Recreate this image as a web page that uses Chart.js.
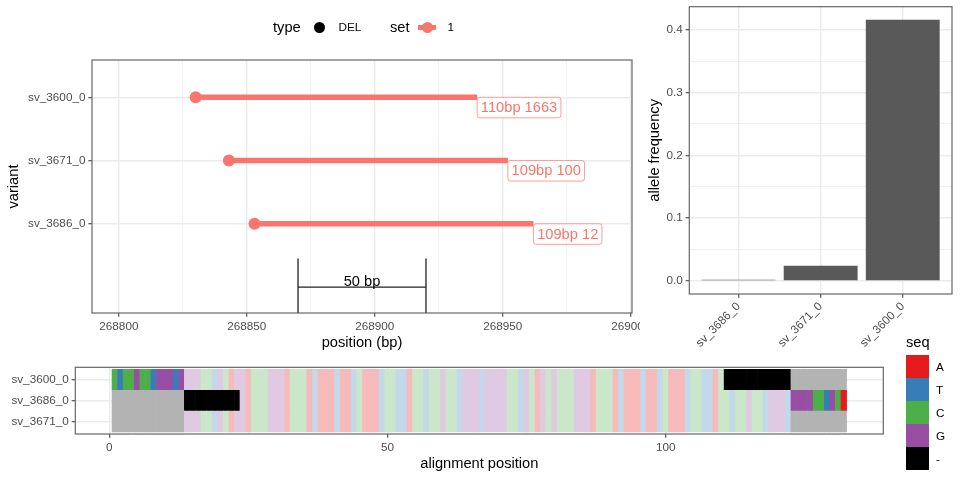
<!DOCTYPE html>
<html><head><meta charset="utf-8"><title>SV deletions</title>
<script src="https://cdn.jsdelivr.net/npm/chart.js@4.4.1/dist/chart.umd.min.js"></script>
<style>
html,body{margin:0;padding:0;background:#fff}
#fig{position:relative;width:960px;height:480px;overflow:hidden;font-family:"Liberation Sans",Arial,Helvetica,sans-serif;color:#000}
#fig canvas{position:absolute}
.lg{position:absolute;white-space:nowrap;line-height:1;transform:translateY(-50%)}
.sw{position:absolute}
</style></head><body>
<div id="fig">
<canvas id="cLolli" width="640" height="356" style="left:0;top:0"></canvas>
<canvas id="cAF" width="320" height="360" style="left:640px;top:0"></canvas>
<canvas id="cAln" width="890" height="125" style="left:0;top:355px"></canvas>
</div>
<script>
// ---------------- data ----------------
const variants = ['sv_3600_0', 'sv_3671_0', 'sv_3686_0'];
const variantRow = [3, 2, 1];
const delStart = [268830, 268843, 268853];
const delLength = [110, 109, 109];
const carrierCount = [1663, 100, 12];
const typeLevels = ['DEL'];
const setLevels = ['1'];
const posTicks = [268800, 268825, 268850, 268875, 268900, 268925, 268950, 268975, 269000];
const scaleBarX = [268870, 268920];
const scaleBarY = 0;
const scaleBarTickTop = 0.45;
const scaleBarLabel = '50 bp';

const afVariants = ['sv_3686_0', 'sv_3671_0', 'sv_3600_0'];
const afPos = [1, 2, 3];
const alleleFreq = [0.002, 0.024, 0.416];
const afTicks = [0, 0.05, 0.1, 0.15, 0.2, 0.25, 0.3, 0.35, 0.4];

const alnVariants = ['sv_3600_0', 'sv_3686_0', 'sv_3671_0'];
const alnRow = [3, 2, 1];
// upper case = differing base, lower case = shared base, '-' = gap, '.' = no sequence
const alnSeq3600 = 'CTCCGCCTGGGTG' + 'gggcctgcag' + 'gacccgggac' + 'ccataaataa' + 'tcaaatcctt' + 'acctccgcct' +
  'gggtggggcc' + 'tgcagcgccc' + 'gggacccata' + 'aataatcaaa' + 'tccttac' + '------------' + '..........';
const alnSeq3686 = '.............' + '----------' + 'gacccgggac' + 'ccataaataa' + 'tcaaatcctt' + 'acctccgcct' +
  'gggtggggcc' + 'tgcagcgccc' + 'gggacccata' + 'aataatcaaa' + 'tccttacctc' + 'cgcctgggt' + 'GGGGCCTGCA';
const alnSeq3671 = '.............' + 'gggcctgcag' + 'gacccgggac' + 'ccataaataa' + 'tcaaatcctt' + 'acctccgcct' +
  'gggtggggcc' + 'tgcagcgccc' + 'gggacccata' + 'aataatcaaa' + 'tccttacctc' + 'cgcctgggt' + '..........';
const alnTicks = [0, 25, 50, 75, 100, 125];
const seqLevels = ['A', 'T', 'C', 'G', '-'];

// ---------------- styles ----------------
const SALMON = '#F8766D';
const baseFull = {A: '#E41A1C', T: '#377EB8', C: '#4DAF4A', G: '#984EA3', '-': '#000000'};
const basePale = {A: '#F7BABB', T: '#C3D8EA', C: '#CAE7C9', G: '#E0CAE3'};
const NA_COL = '#B3B3B3';
const FAM = '"Liberation Sans", Arial, Helvetica, sans-serif';
Chart.defaults.font.family = FAM;
Chart.defaults.color = '#4D4D4D';
const TICK_FONT = {size: 11.73, lineHeight: 1.2};
const TITLE_FONT = {size: 14.67, lineHeight: 1.2};

function fixBox(w, h) {
  return s => {
    if (w != null) s.width = w;
    if (h != null) s.height = h;
    s.paddingLeft = 0; s.paddingRight = 0; s.paddingTop = 0; s.paddingBottom = 0;
  };
}
function setTicks(vals) { return s => { s.ticks = vals.map(v => ({value: v})); }; }
function gridCfg(isMajor) {
  return {
    color: '#EBEBEB',
    lineWidth: c => (c.tick && isMajor(c.tick.value)) ? 1.42 : 0.71,
    tickColor: c => (c.tick && isMajor(c.tick.value)) ? '#444444' : 'rgba(0,0,0,0)',
    tickLength: 3.67,
    tickWidth: 1.1,
    drawTicks: true
  };
}
const allMajor = () => true;
const panelBorder = {
  id: 'panelBorder',
  afterDraw(chart) {
    const {ctx, chartArea: a} = chart;
    ctx.save();
    ctx.strokeStyle = '#666666';
    ctx.lineWidth = 1.2;
    ctx.strokeRect(a.left, a.top, a.right - a.left, a.bottom - a.top);
    ctx.restore();
  }
};
const common = {responsive: false, animation: false, events: [],
  plugins: {legend: {display: false}, tooltip: {enabled: false}}};

// ---------------- lollipop panel ----------------
const LY_MIN = -0.41, LY_MAX = 3.59;
const lolliSets = variants.map((v, i) => ({
  data: [{x: delStart[i], y: variantRow[i]}, {x: delStart[i] + delLength[i], y: variantRow[i]}],
  showLine: true, borderColor: SALMON, borderWidth: 5.5, borderCapStyle: 'butt',
  pointRadius: c => c.dataIndex === 0 ? 6 : 0, pointBackgroundColor: SALMON, pointBorderWidth: 0
}));
const barStyle = {showLine: true, borderColor: '#222222', borderWidth: 1.3, pointRadius: 0};
lolliSets.push(Object.assign({data: [{x: scaleBarX[0], y: scaleBarY}, {x: scaleBarX[1], y: scaleBarY}]}, barStyle));
lolliSets.push(Object.assign({data: [{x: scaleBarX[0], y: scaleBarTickTop}, {x: scaleBarX[0], y: LY_MIN}]}, barStyle));
lolliSets.push(Object.assign({data: [{x: scaleBarX[1], y: scaleBarTickTop}, {x: scaleBarX[1], y: LY_MIN}]}, barStyle));

const lolliLabels = {
  id: 'lolliLabels',
  afterDatasetsDraw(chart) {
    const {ctx, scales: {x, y}} = chart;
    ctx.save();
    ctx.font = '14.67px ' + FAM;
    variants.forEach((v, i) => {
      const px = x.getPixelForValue(delStart[i] + delLength[i]);
      const py = y.getPixelForValue(variantRow[i]);
      const txt = delLength[i] + 'bp ' + carrierCount[i];
      const w = ctx.measureText(txt).width + 7.4, h = 20.5;
      ctx.beginPath();
      ctx.roundRect(px, py, w, h, 2.5);
      ctx.fillStyle = '#ffffff'; ctx.fill();
      ctx.lineWidth = 0.7; ctx.strokeStyle = SALMON; ctx.stroke();
      ctx.fillStyle = SALMON; ctx.textBaseline = 'middle'; ctx.textAlign = 'left';
      ctx.fillText(txt, px + 3.7, py + h / 2 + 0.5);
    });
    ctx.fillStyle = '#000000'; ctx.textAlign = 'center'; ctx.textBaseline = 'alphabetic';
    ctx.fillText(scaleBarLabel, x.getPixelForValue((scaleBarX[0] + scaleBarX[1]) / 2), y.getPixelForValue(scaleBarY) - 1);
    ctx.restore();
  }
};

new Chart(document.getElementById('cLolli'), {
  type: 'scatter',
  data: {datasets: lolliSets},
  options: Object.assign({}, common, {
    layout: {padding: {left: 0, right: 8, top: 60, bottom: 0}},
    scales: {
      x: {type: 'linear', min: 268789.5, max: 269000.5,
        afterBuildTicks: setTicks(posTicks), afterFit: fixBox(null, 43),
        grid: gridCfg(v => v % 50 === 0), border: {display: false},
        ticks: {autoSkip: false, maxRotation: 0, padding: 2.9, font: TICK_FONT, color: '#4D4D4D',
          callback: v => v % 50 === 0 ? String(v) : ''},
        title: {display: true, text: 'position (bp)', color: '#000', font: TITLE_FONT, padding: {top: 4, bottom: 4}}},
      y: {type: 'linear', min: LY_MIN, max: LY_MAX,
        afterBuildTicks: setTicks(variantRow), afterFit: fixBox(92, null),
        grid: gridCfg(allMajor), border: {display: false},
        ticks: {autoSkip: false, padding: 2.9, font: TICK_FONT, color: '#4D4D4D',
          callback: v => variants[variantRow.indexOf(v)] || ''},
        title: {display: true, text: 'variant', color: '#000', font: TITLE_FONT, padding: {top: 5, bottom: 4}}}
    }
  }),
  plugins: [panelBorder, lolliLabels]
});

// ---------------- allele frequency panel ----------------
new Chart(document.getElementById('cAF'), {
  type: 'bar',
  data: {datasets: [{data: afPos.map((p, i) => ({x: p, y: alleleFreq[i]})),
    backgroundColor: '#595959', borderWidth: 0, barPercentage: 0.9, categoryPercentage: 1}]},
  options: Object.assign({}, common, {
    layout: {padding: {left: 0, right: 8, top: 6.7, bottom: 0}},
    scales: {
      x: {type: 'linear', min: 0.4, max: 3.6, offset: false,
        afterBuildTicks: setTicks(afPos), afterFit: fixBox(null, 66),
        grid: Object.assign(gridCfg(allMajor), {offset: false}), border: {display: false},
        ticks: {autoSkip: false, minRotation: 45, maxRotation: 45, padding: 2, font: TICK_FONT, color: '#4D4D4D',
          callback: v => afVariants[afPos.indexOf(v)] || ''}},
      y: {type: 'linear', min: -0.0208, max: 0.4368,
        afterBuildTicks: setTicks(afTicks), afterFit: fixBox(49.3, null),
        grid: gridCfg(v => Math.abs(v * 10 - Math.round(v * 10)) < 1e-6), border: {display: false},
        ticks: {autoSkip: false, padding: 2.9, font: TICK_FONT, color: '#4D4D4D',
          callback: v => Math.abs(v * 10 - Math.round(v * 10)) < 1e-6 ? v.toFixed(1) : ''},
        title: {display: true, text: 'allele frequency', color: '#000', font: TITLE_FONT, padding: {top: 6, bottom: 4}}}
    }
  }),
  plugins: [panelBorder]
});

// ---------------- alignment panel ----------------
const alnSeqs = [alnSeq3600, alnSeq3686, alnSeq3671];
function tileColor(ch) {
  if (ch === '.') return NA_COL;
  if (ch === '-') return baseFull['-'];
  if (ch === ch.toUpperCase()) return baseFull[ch];
  return basePale[ch.toUpperCase()];
}
const tiles = [], tileColors = [];
alnSeqs.forEach((s, r) => {
  Array.from(s).forEach((ch, i) => {
    const p = i + 1;
    tiles.push({x: [p - 0.5, p + 0.5], y: alnRow[r]});
    tileColors.push(tileColor(ch));
  });
});

new Chart(document.getElementById('cAln'), {
  type: 'bar',
  data: {datasets: [{data: tiles, backgroundColor: tileColors, borderWidth: 0,
    barPercentage: 1, categoryPercentage: 1, grouped: false}]},
  options: Object.assign({}, common, {
    indexAxis: 'y',
    layout: {padding: {left: 0, right: 6.7, top: 12.3, bottom: 0}},
    scales: {
      x: {type: 'linear', min: -6.1, max: 139.1,
        afterBuildTicks: setTicks(alnTicks), afterFit: fixBox(null, 46),
        grid: gridCfg(v => v % 50 === 0), border: {display: false},
        ticks: {autoSkip: false, maxRotation: 0, padding: 2.9, font: TICK_FONT, color: '#4D4D4D',
          callback: v => v % 50 === 0 ? String(v) : ''},
        title: {display: true, text: 'alignment position', color: '#000', font: TITLE_FONT, padding: {top: 4, bottom: 7}}},
      y: {type: 'linear', min: 0.4, max: 3.6, offset: false,
        afterBuildTicks: setTicks(alnRow), afterFit: fixBox(75.3, null),
        grid: Object.assign(gridCfg(allMajor), {offset: false}), border: {display: false},
        ticks: {autoSkip: false, padding: 2.9, font: TICK_FONT, color: '#4D4D4D',
          callback: v => alnVariants[alnRow.indexOf(v)] || ''}}
    }
  }),
  plugins: [panelBorder]
});

// ---------------- legends ----------------
const fig = document.getElementById('fig');
function addText(txt, left, cy, size) {
  const d = document.createElement('div');
  d.className = 'lg'; d.textContent = txt;
  d.style.left = left + 'px'; d.style.top = cy + 'px'; d.style.fontSize = size + 'px';
  fig.appendChild(d);
}
function addBox(left, top, w, h, bg, radius) {
  const d = document.createElement('div');
  d.className = 'sw';
  Object.assign(d.style, {left: left + 'px', top: top + 'px', width: w + 'px', height: h + 'px',
    background: bg, borderRadius: radius || '0'});
  fig.appendChild(d);
}
addText('type', 273, 27, 14.67);
addBox(313.5, 21.5, 11, 11, '#000000', '50%');
addText(typeLevels[0], 338.5, 27, 11.73);
addText('set', 390, 27, 14.67);
addBox(418, 24.5, 18, 5, SALMON);
addBox(421.5, 21.5, 11, 11, SALMON, '50%');
addText(setLevels[0], 447.5, 27, 11.73);

addText('seq', 906, 342, 14.67);
seqLevels.forEach((b, i) => {
  addBox(906, 355 + 23 * i, 23, 23, baseFull[b]);
  addText(b, 936, 366.5 + 23 * i, 11.73);
});
</script></body></html>
